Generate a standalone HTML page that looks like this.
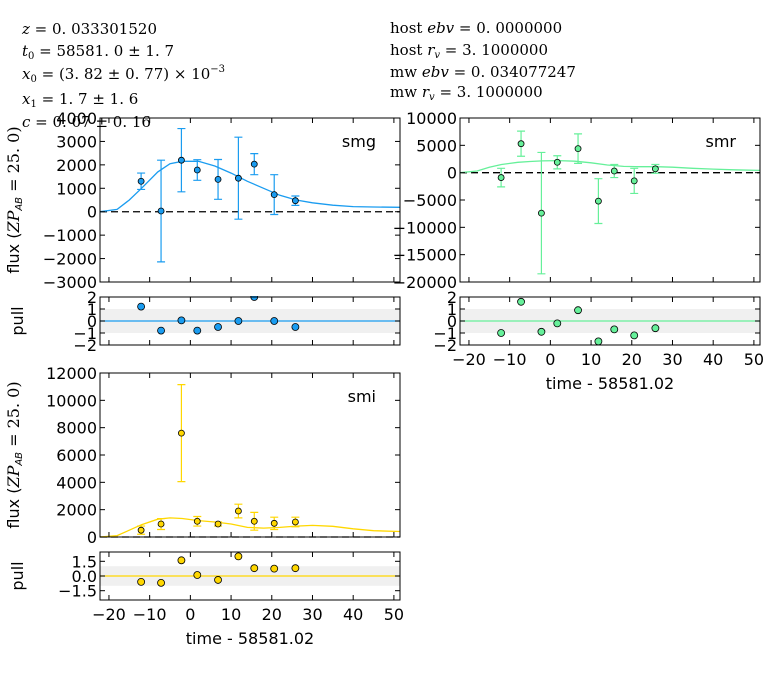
<!DOCTYPE html>
<html><head><meta charset="utf-8"><style>
body{margin:0;background:#fff}
svg text{font-family:"DejaVu Sans","Liberation Sans",sans-serif}
.m{font-family:"DejaVu Serif","Liberation Serif",serif;font-size:15px}
</style></head><body>
<svg id="c" width="780" height="670" viewBox="0 0 780 670">
<g>
<text class="m" x="22" y="34"><tspan font-style="italic">z</tspan> = 0. 033301520</text>
<text class="m" x="22" y="56"><tspan font-style="italic">t</tspan><tspan font-size="10" dy="3">0</tspan><tspan dy="-3"> = 58581. 0 ± 1. 7</tspan></text>
<text class="m" x="22" y="79"><tspan font-style="italic">x</tspan><tspan font-size="10" dy="3">0</tspan><tspan dy="-3"> = (3. 82 ± 0. 77) × 10</tspan><tspan font-size="10" dy="-7">−3</tspan></text>
<text class="m" x="22" y="104"><tspan font-style="italic">x</tspan><tspan font-size="10" dy="3">1</tspan><tspan dy="-3"> = 1. 7 ± 1. 6</tspan></text>
<text class="m" x="22" y="127"><tspan font-style="italic">c</tspan> = 0. 07 ± 0. 16</text>
<text class="m" x="390" y="33">host <tspan font-style="italic">ebv</tspan> = 0. 0000000</text>
<text class="m" x="390" y="55">host <tspan font-style="italic">r</tspan><tspan font-size="10" dy="3" font-style="italic">v</tspan><tspan dy="-3"> = 3. 1000000</tspan></text>
<text class="m" x="390" y="77">mw <tspan font-style="italic">ebv</tspan> = 0. 034077247</text>
<text class="m" x="390" y="97">mw <tspan font-style="italic">r</tspan><tspan font-size="10" dy="3" font-style="italic">v</tspan><tspan dy="-3"> = 3. 1000000</tspan></text>
</g>
</svg>
<script>
const times=[-12.1,-7.2,-2.2,1.7,6.8,11.8,15.7,20.6,25.8];
const smgFlux=[1300,30,2200,1780,1380,1430,2030,730,470];
const smgErr=[350,2170,1350,440,850,1750,450,850,200];
const smgPull=[1.2,-0.8,0.05,-0.8,-0.5,0.0,2.0,0.0,-0.5];
const smrFlux=[-900,5300,-7400,1900,4400,-5200,300,-1500,700];
const smrErr=[1700,2300,11100,1200,2700,4100,1200,2300,800];
const smrPull=[-1.0,1.6,-0.9,-0.2,0.9,-1.7,-0.7,-1.2,-0.6];
const smiFlux=[500,950,7600,1150,950,1900,1150,1000,1100];
const smiErr=[300,400,3550,350,150,500,650,450,350];
const smiPull=[-0.6,-0.7,1.6,0.1,-0.4,2.0,0.8,0.75,0.8];
const modelT=[-22.2,-18,-15,-12,-8,-5,-2,2,6,10,14,18,22,26,30,35,40,45,51.5];
const smgModel=[0,100,500,1000,1700,2050,2150,2150,1950,1650,1300,1000,700,500,380,280,220,200,190];
const smrModel=[0,300,1000,1500,1900,2050,2150,2200,2100,1800,1400,1150,1100,1100,1000,800,650,520,420];
const smiModel=[0,100,500,900,1300,1400,1350,1200,1100,950,700,650,700,800,850,780,600,460,400];
const xTicks=[-20,-10,0,10,20,30,40,50];
const X0=-22.2,X1=51.5;
const NS='http://www.w3.org/2000/svg';
const svg=document.getElementById('c');
function mk(tag,at,parent){const e=document.createElementNS(NS,tag);for(const k in at)e.setAttribute(k,at[k]);(parent||svg).appendChild(e);return e;}
function panel(o){
 const g=mk('g',{});
 
 
 const sx=t=>o.x+(t-X0)/(X1-X0)*o.w;
 const sy=v=>o.y+o.h-(v-o.y0)/(o.y1-o.y0)*o.h;
 if(o.band){const r=mk('rect',{x:o.x,y:sy(1),width:o.w,height:sy(-1)-sy(1),fill:'#f0f0f0'},g);}
 if(o.zero){const l=mk('line',{x1:o.x,x2:o.x+o.w,y1:sy(0),y2:sy(0),stroke:o.zeroColor,'stroke-width':1.3,'stroke-dasharray':o.dash||''},g);}
 if(o.model){let d='';modelT.forEach((t,i)=>{d+=(i?'L':'M')+sx(t).toFixed(1)+','+sy(o.model[i]).toFixed(1);});
  const p=mk('path',{d:d,fill:'none',stroke:o.color,'stroke-width':1.3},g);}
 if(o.err){times.forEach((t,i)=>{const a=sy(o.vals[i]+o.err[i]),b=sy(o.vals[i]-o.err[i]),x=sx(t);
  const e=mk('path',{d:`M${x},${a}L${x},${b}M${x-4},${a}L${x+4},${a}M${x-4},${b}L${x+4},${b}`,stroke:o.color,'stroke-width':1.2,fill:'none'},g);
  });}
 const cg=mk('g',{'clip-path':'url(#'+o.name+'-clip)'},g);
 const cp=mk('clipPath',{id:o.name+'-clip'},g);mk('rect',{x:o.x-1,y:o.y-1,width:o.w+2,height:o.h+2},cp);
 times.forEach((t,i)=>{const c=mk('circle',{cx:sx(t),cy:sy(o.vals[i]),r:o.r,fill:o.color,stroke:'#000','stroke-width':0.8},cg);
  });
 const fr=mk('rect',{x:o.x,y:o.y,width:o.w,height:o.h,fill:'none',stroke:'#000','stroke-width':1},g);
 
 xTicks.forEach((t,i)=>{const x=sx(t);mk('line',{x1:x,x2:x,y1:o.y+o.h,y2:o.y+o.h-5,stroke:'#000'},g);mk('line',{x1:x,x2:x,y1:o.y,y2:o.y+5,stroke:'#000'},g);
  if(o.xlabels){const tx=mk('text',{x:x,y:o.y+o.h+20,'text-anchor':'middle','font-size':16},g);tx.textContent=String(t).replace('-','−');
   }});
 o.yTicks.forEach((v,i)=>{const y=sy(v);mk('line',{x1:o.x,x2:o.x+5,y1:y,y2:y,stroke:'#000'},g);mk('line',{x1:o.x+o.w,x2:o.x+o.w-5,y1:y,y2:y,stroke:'#000'},g);
  const tx=mk('text',{x:o.x-3,y:y+6,'text-anchor':'end','font-size':16},g);tx.textContent=o.yLabels[i];
  });
 if(o.label){const tx=mk('text',{x:o.x+o.w-24,y:o.y+29,'text-anchor':'end','font-size':16},g);tx.textContent=o.label;}
 if(o.xlabels){const tx=mk('text',{x:o.x+o.w/2,y:o.y+o.h+44,'text-anchor':'middle','font-size':16},g);tx.textContent='time - 58581.02';}
}
const fT=(a)=>a.map(v=>String(v).replace('-','−'));
const pullT=[2,1,0,-1,-2];
const smgY=[-3000,-2000,-1000,0,1000,2000,3000,4000];
const smrY=[-20000,-15000,-10000,-5000,0,5000,10000];
const smiY=[0,2000,4000,6000,8000,10000,12000];
const smiPT=[1.5,0,-1.5];
panel({name:'smg-flux-panel',x:100,y:118,w:300,h:164,y0:-3000,y1:4000,vals:smgFlux,err:smgErr,model:smgModel,color:'#1a9cf0',r:3,zero:true,zeroColor:'#000',dash:'7,4',yTicks:smgY,yLabels:fT(smgY),label:'smg'});
panel({name:'smg-pull-panel',x:100,y:297,w:300,h:48,y0:-2,y1:2,vals:smgPull,color:'#1a9cf0',r:3.5,band:true,zero:true,zeroColor:'#1a9cf0',yTicks:pullT,yLabels:fT(pullT)});
panel({name:'smr-flux-panel',x:460,y:118,w:300,h:164,y0:-20000,y1:10000,vals:smrFlux,err:smrErr,model:smrModel,color:'#66f09a',r:3,zero:true,zeroColor:'#000',dash:'7,4',yTicks:smrY,yLabels:fT(smrY),label:'smr'});
panel({name:'smr-pull-panel',x:460,y:297,w:300,h:48,y0:-2,y1:2,vals:smrPull,color:'#66f09a',r:3.5,band:true,zero:true,zeroColor:'#66f09a',yTicks:pullT,yLabels:fT(pullT),xlabels:true});
panel({name:'smi-flux-panel',x:100,y:373,w:300,h:164,y0:0,y1:12000,vals:smiFlux,err:smiErr,model:smiModel,color:'#ffd700',r:3,zero:true,zeroColor:'#000',dash:'7,4',yTicks:smiY,yLabels:fT(smiY),label:'smi'});
panel({name:'smi-pull-panel',x:100,y:552,w:300,h:48,y0:-2.45,y1:2.45,vals:smiPull,color:'#ffd700',r:3.5,band:true,zero:true,zeroColor:'#ffd700',yTicks:smiPT,yLabels:['1.5','0.0','−1.5'],xlabels:true});
function ylab(txt,x,y,name){const t=mk('text',{x:x,y:y,'text-anchor':'middle','font-size':16,transform:`rotate(-90 ${x} ${y})`});t.innerHTML=txt;}
const fl='flux (<tspan font-family="DejaVu Serif,serif" font-style="italic">ZP</tspan><tspan font-size="10" dy="3" font-style="italic">AB</tspan><tspan dy="-3" font-family="DejaVu Serif,serif"> = 25. 0)</tspan>';
ylab(fl,19,200,'flux-axis-title');
ylab('pull',23,321,'pull-axis-title');
ylab(fl,19,455,'flux-axis-title');
ylab('pull',23,576,'pull-axis-title');
</script>
</body></html>
